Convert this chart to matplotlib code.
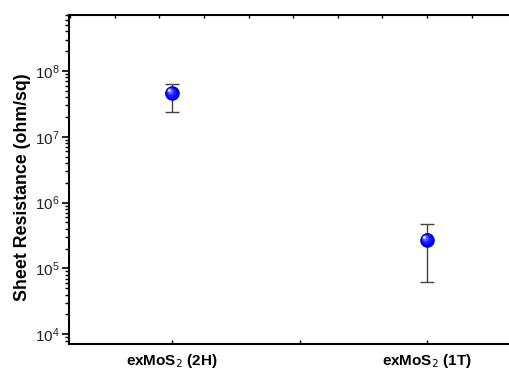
import matplotlib
matplotlib.use('Agg')
import matplotlib.pyplot as plt
import matplotlib.transforms as mtransforms
from matplotlib.ticker import LogLocator, NullFormatter, FixedLocator

plt.rcParams['font.family'] = ['Liberation Sans', 'DejaVu Sans']

samples = ['exMoS$_2$ (2H)', 'exMoS$_2$ (1T)']
positions = [1, 2]
resistance = [4.6e7, 2.7e5]
err_low = [2.4e7, 6.2e4]
err_high = [6.3e7, 4.7e5]

lower = [r - lo for r, lo in zip(resistance, err_low)]
upper = [hi - r for r, hi in zip(resistance, err_high)]

fig = plt.figure(figsize=(5.09, 3.74), dpi=100)
ax = fig.add_axes([69 / 509, 30 / 374, 443 / 509, 329 / 374])

ax.errorbar(positions, resistance, yerr=[lower, upper], fmt='none',
            ecolor='#444444', elinewidth=1.0, capsize=5, capthick=1.0, zorder=2)

# shaded sphere markers: base disc plus lighter layers shifted up-left
layers = [(10.5, '#0000c8', 0.0), (9.0, '#0000f0', 0.4), (7.0, '#1a1aff', 0.9),
          (4.5, '#5a5aff', 1.5), (2.5, '#b0b0ff', 2.0), (1.2, '#f0f0ff', 2.3)]
for size, col, off in layers:
    tr = mtransforms.offset_copy(ax.transData, fig=fig, x=-off, y=off, units='points')
    ax.plot(positions, resistance, 'o', ms=size, color=col, mec='none',
            transform=tr, zorder=3)

ax.set_yscale('log')
ax.set_ylim(10 ** 3.85, 10 ** 8.85)
ax.set_xlim(0.596, 2.333)

ax.yaxis.set_major_locator(LogLocator(base=10, numticks=10))
ax.yaxis.set_minor_locator(LogLocator(base=10, subs=range(2, 10), numticks=50))
ax.yaxis.set_minor_formatter(NullFormatter())
ax.tick_params(axis='y', which='major', direction='out', length=5, width=1.2,
               labelsize=11, labelcolor='#222222', pad=2)
ax.tick_params(axis='y', which='minor', direction='out', length=3, width=1.0)

ax.set_xticks(positions)
ax.set_xticklabels(samples, fontweight='bold', fontsize=11)
ax.xaxis.set_minor_locator(FixedLocator([1.5]))
ax.tick_params(axis='x', which='both', direction='in', length=3, width=1.0, pad=6)

# thin ticks along top edge
top = ax.secondary_xaxis('top')
top.set_xticks([2 - 0.175 * k for k in range(8, -2, -1)])
top.set_xticklabels([])
top.tick_params(direction='in', length=2, width=1.0)
top.spines['top'].set_visible(False)

for side in ['left', 'bottom', 'top']:
    ax.spines[side].set_linewidth(1.5)
ax.spines['right'].set_visible(False)

ax.set_ylabel('Sheet Resistance (ohm/sq)', fontweight='bold', fontsize=12.8)
ax.yaxis.set_label_coords(-0.086, 0.478)

fig.savefig('out.png', dpi=100)
